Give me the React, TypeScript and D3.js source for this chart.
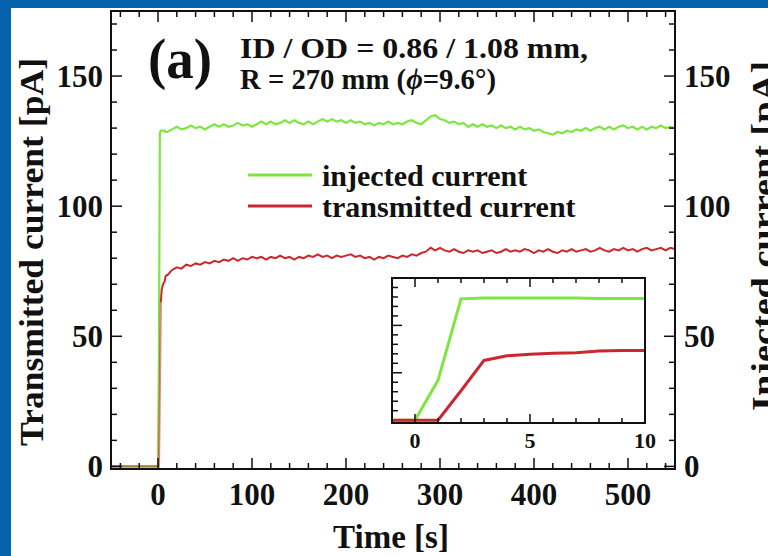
import React from 'react';
import * as d3 from 'd3';

// first seconds, read at fine time steps (also what the inset shows)
const earlyTime = [-50, 0, 1, 2, 3, 4, 5, 6, 7, 8, 9, 10];
const injectedEarly = [0, 0, 42, 128, 129, 129, 129, 129, 129, 128.5, 128.5, 128.5];
const transmittedEarly = [0, 0, 0, 31, 63, 68, 69.5, 70.5, 71, 73, 73.5, 73.5];

// after that one reading every 5 s, starting at 15 s
const steadyStart = 15;
const steadyStep = 5;
const injectedSteady = [
  129.5, 130.5, 129.5, 130, 131, 130, 130.5, 129.5,
  130.5, 131.5, 130.5, 131.5, 130.5, 131, 132, 131, 131.5, 130.5,
  131.5, 132.5, 131.5, 132.5, 131.5, 132, 133, 132, 133, 132,
  131.5, 132.5, 131.5, 132.5, 133.5, 132.5, 133.5, 132.5, 133, 132,
  133, 132, 132.5, 131.5, 132, 131, 132, 131.5, 132.5, 131.5,
  132, 131.5, 132.5, 133, 132, 131.5, 133, 134.5, 135, 133.5,
  133, 132, 132.5, 131.5, 132, 130.5, 131.5, 130.5, 131.5, 130.5,
  131, 130, 131, 130, 130.5, 129.5, 130.5, 129.5, 130, 129,
  129.5, 128.5, 128, 127.5, 128.5, 128, 129, 128.5, 129.5, 129,
  130, 129, 130, 130.5, 129.5, 130.5, 129.5, 130.5, 131, 130,
  130.5, 129.5, 130.5, 129.5, 130.5, 130, 131, 130, 130.5, 130,
];
const transmittedSteady = [
  75.5, 76.5, 76, 77.5, 77, 78, 77.5, 78.5,
  78, 79, 78.5, 79.5, 79, 80, 79, 80, 79.5, 80.5,
  80, 80.5, 79.5, 80.5, 80, 81, 80, 80.5, 79.5, 80.5,
  80, 81, 80.5, 81.5, 80.5, 81, 80, 81, 80.5, 81,
  81.5, 80.5, 81, 80, 80.5, 79.5, 80.5, 80, 81, 80.5,
  80, 81, 80.5, 81.5, 81, 82, 82.5, 84, 83, 84,
  83, 82.5, 83.5, 82.5, 82, 83, 82.5, 83, 82, 82.5,
  83, 82, 82.5, 83.5, 82.5, 83, 82.5, 83.5, 83, 82,
  83, 82.5, 83.5, 82.5, 82, 83, 82.5, 83.5, 82.5, 83,
  83.5, 82.5, 83, 84, 83, 82.5, 83.5, 83, 84, 83,
  83.5, 82.5, 83.5, 84, 83, 83.5, 84, 83, 84, 83.5,
];

const xTickLabels = [0, 100, 200, 300, 400, 500];
const yTickLabels = [0, 50, 100, 150];
const insetXTickLabels = [0, 5, 10];
const legendLabels = ['injected current', 'transmitted current'];

const GREEN = '#7ee640';
const RED = '#cc2630';
const BLUE = '#0563ad';
const FONT = '"Liberation Serif", "Times New Roman", serif';

type Pt = [number, number];

const toPoints = (early: number[], steady: number[]): Pt[] => [
  ...earlyTime.map((t, i) => [t, early[i]] as Pt),
  ...steady.map((v, i) => [steadyStart + i * steadyStep, v] as Pt),
];

const injected = toPoints(injectedEarly, injectedSteady);
const transmitted = toPoints(transmittedEarly, transmittedSteady);

export default function App() {
  // main plot (y starts a little below 0 so the zero baseline shows above the axis)
  const x = d3.scaleLinear().domain([-50, 550]).range([111, 675]);
  const y = d3.scaleLinear().domain([-1, 175]).range([469, 11]);
  const line = d3.line<Pt>().x(d => x(d[0])).y(d => y(d[1]));

  // inset
  const ix = d3.scaleLinear().domain([-1, 10]).range([392, 645]);
  const iy = d3.scaleLinear().domain([-3, 150]).range([423, 278]);
  const insetLine = d3.line<Pt>().x(d => ix(d[0])).y(d => iy(d[1]));

  const [x0, x1] = x.range();
  const [y0, y1] = y.range();
  const xMinor = d3.range(-40, 551, 20).filter(v => v % 100 !== 0);
  const yMinor = d3.range(10, 175, 10).filter(v => v % 50 !== 0);

  const [ix0, ix1] = ix.range();
  const [iy0, iy1] = iy.range();
  const insetXTicks = d3.range(0, 11, 1);
  const insetYTicks = d3.range(10, 150, 10);

  // red rise overlaps the green one, so it is drawn half transparent there
  const redOverlap = transmitted.filter(d => d[0] <= 3);
  const redRest = transmitted.filter(d => d[0] >= 3);

  const txt = { fontFamily: FONT, fontWeight: 'bold' as const, fill: '#111' };

  return (
    <svg width={768} height={556} style={{ position: 'absolute', left: 0, top: 0 }}>
      <rect x={0} y={0} width={768} height={556} fill="#fff" />
      <rect x={0} y={0} width={768} height={8} fill={BLUE} />
      <rect x={0} y={0} width={11} height={556} fill={BLUE} />

      <defs>
        <clipPath id="plot">
          <rect x={x0} y={y1} width={x1 - x0} height={y0 - y1} />
        </clipPath>
        <clipPath id="inset">
          <rect x={ix0} y={iy1} width={ix1 - ix0} height={iy0 - iy1} />
        </clipPath>
      </defs>

      <g clipPath="url(#plot)">
        <path d={line(injected) ?? ''} fill="none" stroke={GREEN} strokeWidth={2.2} />
        <path d={line(redOverlap) ?? ''} fill="none" stroke={RED} strokeWidth={2.2} strokeOpacity={0.55} />
        <path d={line(redRest) ?? ''} fill="none" stroke={RED} strokeWidth={2} />
      </g>

      {/* main ticks, pointing inward */}
      <g stroke="#111" strokeWidth={1.5}>
        {xTickLabels.map(v => (
          <g key={'xm' + v}>
            <line x1={x(v)} x2={x(v)} y1={y0} y2={y0 - 11} />
            <line x1={x(v)} x2={x(v)} y1={y1} y2={y1 + 11} />
          </g>
        ))}
        {xMinor.map(v => (
          <g key={'xn' + v}>
            <line x1={x(v)} x2={x(v)} y1={y0} y2={y0 - 6} />
            <line x1={x(v)} x2={x(v)} y1={y1} y2={y1 + 6} />
          </g>
        ))}
        {yTickLabels.map(v => (
          <g key={'ym' + v}>
            <line x1={x0} x2={x0 + 11} y1={y(v)} y2={y(v)} />
            <line x1={x1} x2={x1 - 11} y1={y(v)} y2={y(v)} />
          </g>
        ))}
        {yMinor.map(v => (
          <g key={'yn' + v}>
            <line x1={x0} x2={x0 + 6} y1={y(v)} y2={y(v)} />
            <line x1={x1} x2={x1 - 6} y1={y(v)} y2={y(v)} />
          </g>
        ))}
      </g>
      <rect x={x0} y={y1} width={x1 - x0} height={y0 - y1} fill="none" stroke="#111" strokeWidth={2} />

      {/* tick labels */}
      {xTickLabels.map(v => (
        <text key={'xl' + v} x={x(v)} y={505} textAnchor="middle" fontSize={31} {...txt}>{v}</text>
      ))}
      {yTickLabels.map(v => (
        <text key={'yl' + v} x={103} y={y(v) + 11} textAnchor="end" fontSize={31} {...txt}>{v}</text>
      ))}
      {yTickLabels.map(v => (
        <text key={'yr' + v} x={684} y={y(v) + 11} textAnchor="start" fontSize={31} {...txt}>{v}</text>
      ))}

      {/* axis titles */}
      <text x={391} y={548} textAnchor="middle" fontSize={33} {...txt}>Time [s]</text>
      <text transform="translate(43,252) rotate(-90)" textAnchor="middle" fontSize={34}
        textLength={388} lengthAdjust="spacingAndGlyphs" {...txt}>Transmitted current [pA]</text>
      <text transform="translate(775,236) rotate(-90)" textAnchor="middle" fontSize={34}
        textLength={350} lengthAdjust="spacingAndGlyphs" {...txt}>Injected current [pA]</text>

      {/* annotation */}
      <text x={148} y={78} fontSize={56} textLength={64} lengthAdjust="spacingAndGlyphs" {...txt}>(a)</text>
      <text x={240} y={58} fontSize={29} textLength={348} lengthAdjust="spacingAndGlyphs" {...txt}>
        ID / OD = 0.86 / 1.08 mm,
      </text>
      <text x={240} y={89} fontSize={29} textLength={256} lengthAdjust="spacingAndGlyphs" {...txt}>
        R = 270 mm (<tspan fontStyle="italic">ϕ</tspan>=9.6°)
      </text>

      {/* legend */}
      {legendLabels.map((label, i) => (
        <g key={label}>
          <line x1={248} x2={312} y1={175 + i * 31} y2={175 + i * 31}
            stroke={i === 0 ? GREEN : RED} strokeWidth={3} />
          <text x={322} y={186 + i * 31} fontSize={30} {...txt}>{label}</text>
        </g>
      ))}

      {/* inset */}
      <rect x={ix0} y={iy1} width={ix1 - ix0} height={iy0 - iy1} fill="#fff" />
      <g clipPath="url(#inset)">
        <path d={insetLine(injected) ?? ''} fill="none" stroke={GREEN} strokeWidth={3} />
        <path d={insetLine(transmitted) ?? ''} fill="none" stroke={RED} strokeWidth={3} />
      </g>
      <g stroke="#111" strokeWidth={1.5}>
        {insetXTicks.map(v => {
          const len = v % 5 === 0 ? 9 : 5;
          return (
            <g key={'ix' + v}>
              <line x1={ix(v)} x2={ix(v)} y1={iy0} y2={iy0 - len} />
              <line x1={ix(v)} x2={ix(v)} y1={iy1} y2={iy1 + len} />
            </g>
          );
        })}
        {insetYTicks.map(v => (
          <line key={'iy' + v} x1={ix0} x2={ix0 + (v % 50 === 0 ? 10 : 6)} y1={iy(v)} y2={iy(v)} />
        ))}
      </g>
      <rect x={ix0} y={iy1} width={ix1 - ix0} height={iy0 - iy1} fill="none" stroke="#111" strokeWidth={2} />
      {insetXTickLabels.map(v => (
        <text key={'il' + v} x={ix(v)} y={448} textAnchor="middle" fontSize={22} {...txt}>{v}</text>
      ))}
    </svg>
  );
}
